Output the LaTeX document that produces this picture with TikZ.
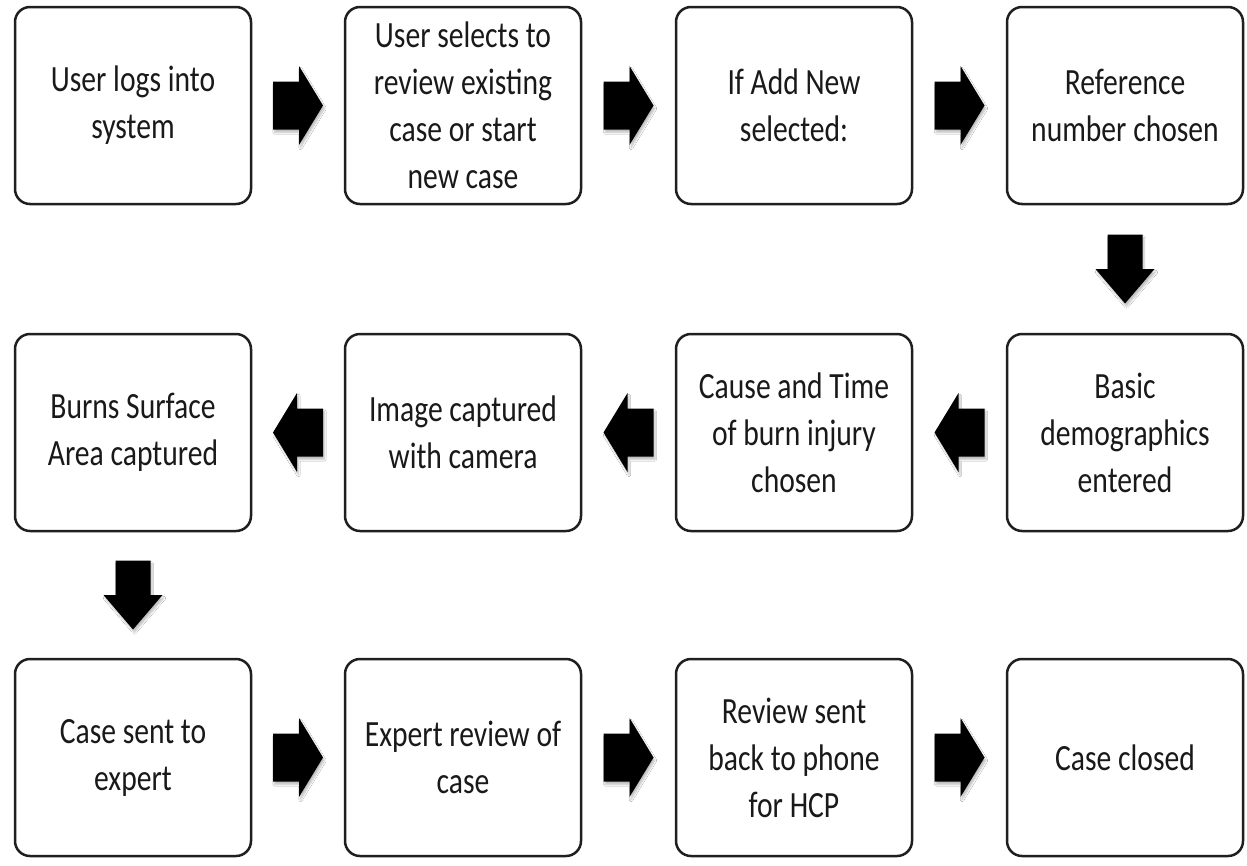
\documentclass[tikz,border=0pt]{standalone}
\usepackage{fontspec}
\newfontfamily\calfont[FakeStretch=0.8]{Carlito}
\usetikzlibrary{calc,shadows.blur}
\tikzset{
  stepbox/.style={draw=black!88, line width=2.5pt, rounded corners=15pt, fill=white,
    minimum width=236pt, minimum height=197pt, align=center, inner sep=0pt,
    font=\calfont\fontsize{37}{47}\selectfont, text=black!90},
  arrowfill/.style={fill=black, blur shadow={shadow xshift=1.5pt, shadow yshift=-3pt, shadow blur steps=6, shadow opacity=25}},
  rarrow/.pic={\path[arrowfill] (-25,-24) -- (1,-24) -- (1,-39.5) -- (25,0) -- (1,39.5) -- (1,24) -- (-25,24) -- cycle;},
  larrow/.pic={\path[arrowfill] (25,-24) -- (-1,-24) -- (-1,-39.5) -- (-25,0) -- (-1,39.5) -- (-1,24) -- (25,24) -- cycle;},
  darrow/.pic={\path[arrowfill] (-17.5,-34.5) -- (17.5,-34.5) -- (17.5,0) -- (29.5,0) -- (0,34.5) -- (-29.5,0) -- (-17.5,0) -- cycle;}
}
\begin{document}
\begin{tikzpicture}[x=1pt,y=-1pt]
\useasboundingbox[fill=white] (0,0) rectangle (1247,865);
% row 1
\node[stepbox] (a1) at (133,105.5) {User logs into\\system};
\node[stepbox] (a2) at (463,105.5) {User selects to\\review existing\\case or start\\new case};
\node[stepbox] (a3) at (794,105.5) {If Add New\\selected:};
\node[stepbox] (a4) at (1125,105.5) {Reference\\number chosen};
% row 2
\node[stepbox] (b4) at (1125,432.5) {Basic\\demographics\\entered};
\node[stepbox] (b3) at (794,432.5) {Cause and Time\\of burn injury\\chosen};
\node[stepbox] (b2) at (463,432.5) {Image captured\\with camera};
\node[stepbox] (b1) at (133,432.5) {Burns Surface\\Area captured};
% row 3
\node[stepbox] (c1) at (133,757.5) {Case sent to\\expert};
\node[stepbox] (c2) at (463,757.5) {Expert review of\\case};
\node[stepbox] (c3) at (794,757.5) {Review sent\\back to phone\\for HCP};
\node[stepbox] (c4) at (1125,757.5) {Case closed};
% arrows
\pic at ($(a1.east)!0.5!(a2.west)$) {rarrow};
\pic at ($(a2.east)!0.5!(a3.west)$) {rarrow};
\pic at ($(a3.east)!0.5!(a4.west)$) {rarrow};
\pic at ($(a4.south)!0.5!(b4.north)$) {darrow};
\pic at ($(b4.west)!0.5!(b3.east)$) {larrow};
\pic at ($(b3.west)!0.5!(b2.east)$) {larrow};
\pic at ($(b2.west)!0.5!(b1.east)$) {larrow};
\pic at ($(b1.south)!0.5!(c1.north)$) {darrow};
\pic at ($(c1.east)!0.5!(c2.west)$) {rarrow};
\pic at ($(c2.east)!0.5!(c3.west)$) {rarrow};
\pic at ($(c3.east)!0.5!(c4.west)$) {rarrow};
\end{tikzpicture}
\end{document}
